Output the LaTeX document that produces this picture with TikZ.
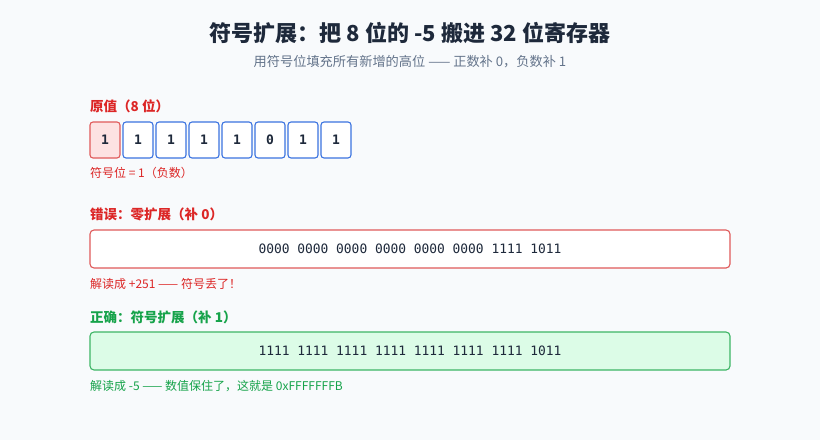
\documentclass[tikz,border=0pt]{standalone}
\usepackage{fontspec}
\usepackage{xcolor}
\setmainfont{Noto Sans CJK SC}
\setmonofont{DejaVu Sans Mono}
\usetikzlibrary{positioning}

\definecolor{pagebg}{HTML}{F8FAFC}
\definecolor{inkdark}{HTML}{1E293B}
\definecolor{inkgray}{HTML}{64748B}
\definecolor{errred}{HTML}{DC2626}
\definecolor{errborder}{HTML}{E05A5A}
\definecolor{errfill}{HTML}{FDE2E2}
\definecolor{okgreen}{HTML}{16A34A}
\definecolor{okborder}{HTML}{3DB565}
\definecolor{okfill}{HTML}{DCFCE7}
\definecolor{bitblue}{HTML}{3B73E0}

\tikzset{
  headline/.style={anchor=west, inner sep=0pt, font=\bfseries\fontsize{13.5}{16}\selectfont},
  noteline/.style={anchor=west, inner sep=0pt, font=\fontsize{12}{14}\selectfont},
  bitbox/.style={draw=bitblue, fill=white, line width=1.1pt, rounded corners=3pt,
    minimum width=30pt, minimum height=36pt, inner sep=0pt, text=inkdark,
    font=\ttfamily\bfseries\fontsize{13}{15}\selectfont},
  regbox/.style={line width=1.1pt, rounded corners=4pt, minimum width=640pt,
    minimum height=38pt, inner sep=0pt, text=inkdark,
    font=\ttfamily\fontsize{12.9}{15}\selectfont},
}

\begin{document}
\begin{tikzpicture}[x=1pt,y=1pt,yscale=-1]
% page
\fill [pagebg] (0,0) rectangle (820,440);
\useasboundingbox (0,0) rectangle (820,440);

% Title
\node (title) [inner sep=0pt, text=inkdark, font=\bfseries\fontsize{22}{26}\selectfont] at (410,33) {符号扩展：把 8 位的 -5 搬进 32 位寄存器};
\node (subtitle) [inner sep=0pt, text=inkgray, font=\fontsize{13.2}{15}\selectfont] at (410,62) {用符号位填充所有新增的高位 —— 正数补 0，负数补 1};

% original 8 bits
\node (origlabel) [headline, text=errred] at (90,106) {原值（8 位）};
\node (b1) [bitbox, draw=errborder, fill=errfill] at (105,140) {1};
\foreach \v [count=\i from 2, evaluate=\i as \j using int(\i-1)] in {1,1,1,1,0,1,1}
  \node (b\i) [bitbox, right=1.9pt of b\j] {\v};
\node (signnote) [noteline, text=errred] at (90,173) {符号位 = 1（负数）};

% wrong: zero extension
\node (zerolabel) [headline, text=errred] at (90,214) {错误：零扩展（补 0）};
\node (zeroreg) [regbox, draw=errborder, fill=white] at (410,249) {0000 0000 0000 0000 0000 0000 1111 1011};
\node (zeronote) [noteline, text=errred] at (90,284) {解读成 +251 —— 符号丢了！};

% right: sign extension
\node (signlabel) [headline, text=okgreen] at (90,317) {正确：符号扩展（补 1）};
\node (signreg) [regbox, draw=okborder, fill=okfill] at (410,351) {1111 1111 1111 1111 1111 1111 1111 1011};
\node (signnote2) [noteline, text=okgreen] at (90,386) {解读成 -5 —— 数值保住了，这就是 0xFFFFFFFB};
\end{tikzpicture}
\end{document}
